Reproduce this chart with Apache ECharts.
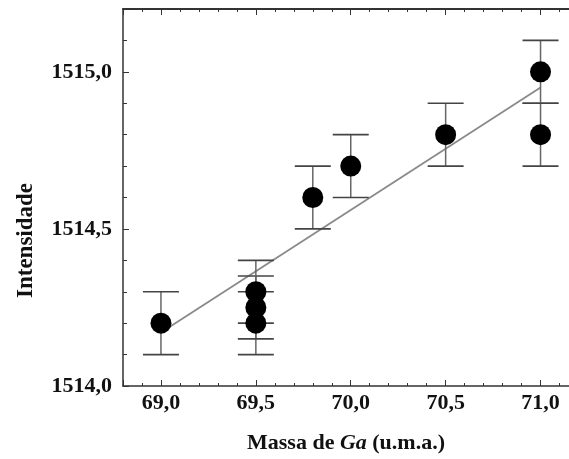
<!DOCTYPE html>
<html>
<head>
<meta charset="utf-8">
<script src="https://cdn.jsdelivr.net/npm/echarts@6/dist/echarts.min.js"></script>
<style>
  html, body { margin: 0; padding: 0; background: #fff; }
  #chart { width: 569px; height: 459px; }
</style>
</head>
<body>
<div id="chart"></div>
<script>
// measured points (mass, intensity) with +/- uncertainty
const massX = [69.0, 69.5, 69.5, 69.5, 69.8, 70.0, 70.5, 71.0, 71.0];
const intensity = [1514.2, 1514.2, 1514.25, 1514.3, 1514.6, 1514.7, 1514.8, 1514.8, 1515.0];
const uncertainty = [0.1, 0.1, 0.1, 0.1, 0.1, 0.1, 0.1, 0.1, 0.1];
// linear fit end points
const fitX = [69.0, 71.0];
const fitY = [1514.17, 1514.95];

const fontFam = '"Liberation Serif", "Times New Roman", serif';

const chartDom = document.getElementById('chart');
const myChart = echarts.init(chartDom, null, { renderer: 'canvas' });

const points = massX.map((x, i) => [x, intensity[i]]);
const errData = massX.map((x, i) => [x, intensity[i] - uncertainty[i], intensity[i] + uncertainty[i]]);
const fitData = fitX.map((x, i) => [x, fitY[i]]);

function fmtComma(v) {
  return v.toFixed(1).replace('.', ',');
}

const axisColor = '#333';

const option = {
  backgroundColor: '#fff',
  animation: false,
  grid: { left: 123, top: 9, right: 0, bottom: 72, containLabel: false },
  xAxis: [
    {
      type: 'value',
      min: 68.8,
      max: 71.15,
      splitNumber: 5,
      name: 'Massa de {i|Ga} (u.m.a.)',
      nameLocation: 'middle',
      nameGap: 46,
      nameTextStyle: {
        fontFamily: fontFam, fontSize: 22, fontWeight: 'bold', color: '#111',
        rich: { i: { fontFamily: fontFam, fontSize: 22, fontWeight: 'bold', fontStyle: 'italic', color: '#111' } }
      },
      axisLine: { lineStyle: { color: axisColor, width: 1.5 } },
      axisTick: { inside: true, length: 6, lineStyle: { color: axisColor } },
      minorTick: { show: true, splitNumber: 5, length: 3, lineStyle: { color: axisColor } },
      splitLine: { show: false },
      axisLabel: {
        margin: 6,
        fontFamily: fontFam, fontSize: 22, fontWeight: 'bold', color: '#111',
        showMinLabel: false, showMaxLabel: false,
        formatter: function (v) {
          const r = Math.round(v * 2) / 2;
          return Math.abs(r - v) < 1e-6 ? fmtComma(v) : '';
        }
      }
    },
    {
      type: 'value',
      position: 'top',
      min: 68.8,
      max: 71.15,
      splitNumber: 5,
      axisLine: { show: true, lineStyle: { color: axisColor, width: 2 } },
      axisTick: { show: true, inside: true, length: 6, lineStyle: { color: axisColor } },
      minorTick: { show: true, splitNumber: 5, length: 3, lineStyle: { color: axisColor } },
      axisLabel: { show: false },
      splitLine: { show: false }
    }
  ],
  yAxis: {
    type: 'value',
    min: 1514.0,
    max: 1515.2,
    interval: 0.5,
    name: 'Intensidade',
    nameLocation: 'middle',
    nameGap: 85,
    nameTextStyle: { fontFamily: fontFam, fontSize: 23, fontWeight: 'bold', color: '#111', padding: [0, 86, 0, 0] },
    axisLine: { show: true, lineStyle: { color: axisColor, width: 1.5 } },
    axisTick: { inside: true, length: 6, lineStyle: { color: axisColor } },
    minorTick: { show: true, splitNumber: 5, length: 4, lineStyle: { color: axisColor } },
    splitLine: { show: false },
    axisLabel: {
      margin: 11,
      fontFamily: fontFam, fontSize: 22, fontWeight: 'bold', color: '#111',
      showMaxLabel: false,
      formatter: function (v) { return fmtComma(v); }
    }
  },
  series: [
    {
      name: 'ajuste',
      type: 'line',
      data: fitData,
      showSymbol: false,
      symbol: 'none',
      lineStyle: { color: '#8a8a8a', width: 1.8 },
      z: 2
    },
    {
      name: 'erro',
      type: 'custom',
      data: errData,
      renderItem: function (params, api) {
        const x = api.value(0);
        const lo = api.coord([x, api.value(1)]);
        const hi = api.coord([x, api.value(2)]);
        const half = 18;
        const style = { stroke: '#444', lineWidth: 1.6 };
        return {
          type: 'group',
          children: [
            { type: 'line', shape: { x1: lo[0], y1: lo[1], x2: hi[0], y2: hi[1] }, style: { stroke: '#666', lineWidth: 1.5 } },
            { type: 'line', shape: { x1: lo[0] - half, y1: lo[1], x2: lo[0] + half, y2: lo[1] }, style: style },
            { type: 'line', shape: { x1: hi[0] - half, y1: hi[1], x2: hi[0] + half, y2: hi[1] }, style: style }
          ]
        };
      },
      z: 3
    },
    {
      name: 'dados',
      type: 'scatter',
      data: points,
      symbol: 'circle',
      symbolSize: 21,
      itemStyle: { color: '#000', opacity: 1 },
      z: 4
    }
  ]
};

myChart.setOption(option);
window.addEventListener('resize', myChart.resize);
</script>
</body>
</html>
